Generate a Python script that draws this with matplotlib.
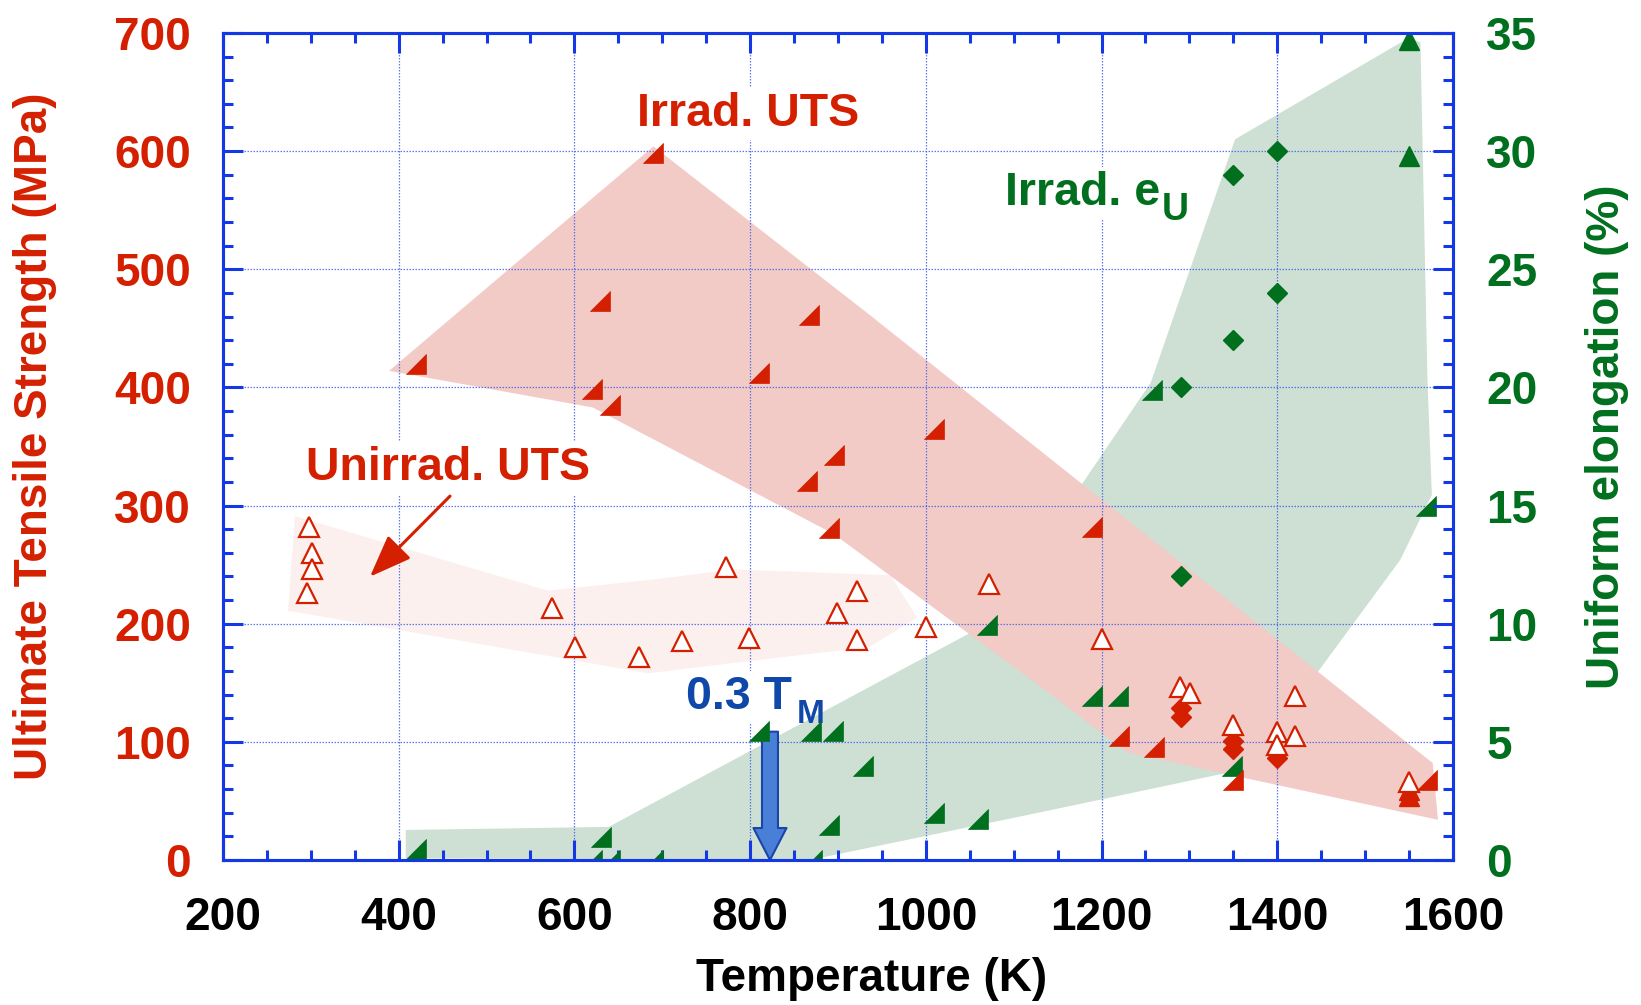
import numpy as np
import matplotlib
matplotlib.use("Agg")
import matplotlib.pyplot as plt
from matplotlib.path import Path
from matplotlib.patches import Polygon, FancyArrowPatch, ArrowStyle
from matplotlib.ticker import MultipleLocator

plt.rcParams['font.family'] = ['Liberation Sans', 'DejaVu Sans']
plt.rcParams['font.weight'] = 'bold'
plt.rcParams['axes.labelweight'] = 'bold'
plt.rcParams['mathtext.fontset'] = 'custom'
plt.rcParams['mathtext.rm'] = 'Liberation Sans:bold'
plt.rcParams['mathtext.it'] = 'Liberation Sans:bold'
plt.rcParams['mathtext.bf'] = 'Liberation Sans:bold'

# ---------------- data ----------------
# Irradiated UTS (half-filled red triangles)
irr_uts_T = [420, 690, 629, 620, 640, 867, 810, 865, 895, 890, 1009, 1189, 1220, 1260, 1350, 1570]
irr_uts_val = [420, 598, 473, 399, 385, 461, 412, 321, 343, 281, 365, 282, 105, 96, 68, 68]
# Irradiated UTS (solid red triangles)
irr_uts2_T = [1550, 1550]
irr_uts2_val = [54, 59]
# Irradiated UTS (red diamonds)
irr_uts3_T = [1290, 1290, 1350, 1350, 1400]
irr_uts3_val = [129, 121, 101, 94, 86]
# Unirradiated UTS (open triangles)
unirr_T = [298, 301, 301, 296, 574, 601, 673, 723, 772, 799, 899, 922, 922, 1000,
           1072, 1200, 1289, 1301, 1350, 1400, 1400, 1420, 1420, 1550]
unirr_val = [282, 260, 246, 226, 213, 180, 172, 185, 248, 188, 209, 228, 186, 197,
             234, 187, 146, 141, 114, 108, 97, 139, 105, 66]
# Irradiated uniform elongation (half-filled green triangles), %
irr_eu_T = [420, 630, 620, 640, 690, 870, 810, 869, 894, 929, 890, 1009, 1059, 1070,
            1189, 1219, 1258, 1349, 1569]
irr_eu_val = [0.47, 0.97, 0, 0, 0, 0, 5.46, 5.46, 5.46, 3.97, 1.46, 1.97, 1.75, 9.94,
              6.96, 6.96, 19.9, 3.98, 14.96]
# Irradiated eU (green diamonds)
irr_eu2_T = [1290, 1290, 1350, 1350, 1400, 1400]
irr_eu2_val = [20, 12, 29, 22, 30, 24]
# Irradiated eU (solid green triangles)
irr_eu3_T = [1550, 1550]
irr_eu3_val = [34.7, 29.8]

# shaded bands
irr_band_T = [389, 690, 935, 1577, 1583, 1229, 1141, 895, 621]
irr_band_uts = [414, 604, 462, 82, 34, 91, 141, 276, 383]
unirr_band_T = [282, 570, 697, 780, 960, 990, 935, 840, 684, 274]
unirr_band_uts = [291, 228, 238, 246, 241, 205, 180, 172, 158, 211]
eu_band_T = [408, 408, 639, 1070, 1256, 1352, 1550, 1563, 1571, 1576, 1540, 1445, 1357, 1141, 868]
eu_band_pct = [0.08, 1.27, 1.40, 10.0, 20.2, 30.5, 34.8, 34.6, 20.3, 15.45, 12.7, 7.9, 3.8, 2.1, 0]

x_ticks = [200, 400, 600, 800, 1000, 1200, 1400, 1600]
y_ticks = [0, 100, 200, 300, 400, 500, 600, 700]
y2_ticks = [0, 5, 10, 15, 20, 25, 30, 35]

# ---------------- style ----------------
RED = '#d42000'
GREEN = '#00701f'
BLUE = '#1538e6'
TXTBLUE = '#0f48a8'
PINK = '#f2cbc7'
LPINK = '#fcf0ef'
LGREEN = '#cde0d3'
FS = 33.5

fig = plt.figure(figsize=(16.41, 10.05), dpi=100)
ax = fig.add_axes([0.1359, 0.1443, 0.7495, 0.8229])
ax2 = ax.twinx()

ax.set_xlim(200, 1600)
ax.set_ylim(0, 700)
ax2.set_ylim(0, 35)

half_tri = Path([(-1, -1), (1, -1), (1, 1), (-1, -1)],
                [Path.MOVETO, Path.LINETO, Path.LINETO, Path.CLOSEPOLY])

tr2 = ax2.transData

# bands
ax.add_patch(Polygon(np.column_stack([eu_band_T, eu_band_pct]), closed=True,
                     facecolor=LGREEN, edgecolor='none', transform=tr2, zorder=1))
ax.add_patch(Polygon(np.column_stack([unirr_band_T, unirr_band_uts]), closed=True,
                     facecolor=LPINK, edgecolor='none', zorder=1.1))
ax.add_patch(Polygon(np.column_stack([irr_band_T, irr_band_uts]), closed=True,
                     facecolor=PINK, edgecolor='none', zorder=1.2))

# grid
ax.set_axisbelow(False)
ax.grid(True, which='major', color='#3a58e8', linestyle=(0, (1.2, 1.2)), linewidth=0.9, alpha=0.8)

# text labels
bb = dict(facecolor='white', edgecolor='none', pad=3)
ax.text(671, 621.6, 'Irrad. UTS', color=RED, fontsize=FS, ha='left', va='baseline',
        bbox=bb, zorder=3)
ax.text(1090, 554.4, 'Irrad. e', color=GREEN, fontsize=FS, ha='left',
        va='baseline', bbox=bb, zorder=3)
ax.text(1268, 541.7, 'U', color=GREEN, fontsize=27, ha='left',
        va='baseline', zorder=3.1)
ax.text(295, 321.3, 'Unirrad. UTS', color=RED, fontsize=FS, ha='left', va='baseline',
        bbox=bb, zorder=3)
ax.text(727, 128, '0.3 T', color=TXTBLUE, fontsize=FS, ha='left',
        va='baseline', bbox=bb, zorder=3)
ax.text(853, 115.7, 'M', color=TXTBLUE, fontsize=24, ha='left',
        va='baseline', zorder=3.1)

# arrows
ax.add_patch(FancyArrowPatch((458.4, 308), (367.3, 239.8),
                             arrowstyle='-|>,head_length=26,head_width=10',
                             mutation_scale=1, color=RED, lw=2.2,
                             shrinkA=0, shrinkB=0, zorder=3))
ax.add_patch(FancyArrowPatch((822.6, 108.6), (822.6, 0),
                             arrowstyle=ArrowStyle.Simple(head_length=23, head_width=23.8,
                                                          tail_width=11.5),
                             mutation_scale=1, facecolor='#4a7fd8', edgecolor='#1a45a8',
                             lw=1.5, shrinkA=0, shrinkB=0, zorder=3, clip_on=False))

# markers
ax.plot(irr_eu_T, irr_eu_val, linestyle='none', marker=half_tri, ms=15, color=GREEN,
        mec=GREEN, mew=0.5, transform=tr2, zorder=4)
ax.plot(irr_eu2_T, irr_eu2_val, linestyle='none', marker='D', ms=10, color=GREEN,
        mec=GREEN, transform=tr2, zorder=4)
ax.plot(irr_eu3_T, irr_eu3_val, linestyle='none', marker='^', ms=15, color=GREEN,
        mec=GREEN, transform=tr2, zorder=4)
ax.plot(irr_uts_T, irr_uts_val, linestyle='none', marker=half_tri, ms=15, color=RED,
        mec=RED, mew=0.5, zorder=4)
ax.plot(irr_uts3_T, irr_uts3_val, linestyle='none', marker='D', ms=10, color=RED,
        mec=RED, zorder=4)
ax.plot(irr_uts2_T, irr_uts2_val, linestyle='none', marker='^', ms=15, color=RED,
        mec=RED, zorder=4)
ax.plot(unirr_T, unirr_val, linestyle='none', marker='^', ms=14, mfc='white',
        mec=RED, mew=1.6, zorder=4.5)

# axes styling
for a in (ax, ax2):
    for s in a.spines.values():
        s.set_color(BLUE)
        s.set_linewidth(2.2)

ax.set_xticks(x_ticks)
ax.set_yticks(y_ticks)
ax2.set_yticks(y2_ticks)
ax.xaxis.set_minor_locator(MultipleLocator(50))
ax.yaxis.set_minor_locator(MultipleLocator(20))
ax2.yaxis.set_minor_locator(MultipleLocator(1))

ax.tick_params(axis='x', which='both', direction='in', top=True, bottom=True,
               color=BLUE, width=2.2, labelsize=33, labelcolor='black', pad=26)
ax.tick_params(axis='y', which='both', direction='in', left=True, right=False,
               color=BLUE, width=2.2, labelsize=33, labelcolor=RED, pad=23)
ax2.tick_params(axis='y', which='both', direction='in', left=False, right=True,
                color=BLUE, width=2.2, labelsize=33, labelcolor=GREEN, pad=24)
for a in (ax, ax2):
    a.tick_params(which='major', length=14.4)
    a.tick_params(which='minor', length=7.5)

ax.set_xlabel('Temperature (K)', fontsize=33, color='black', fontweight='bold', va='center')
ax.xaxis.set_label_coords(0.527, -0.1434)
ax.set_ylabel('Ultimate Tensile Strength (MPa)', fontsize=33, color=RED,
              fontweight='bold', va='center', ha='center')
ax.yaxis.set_label_coords(-0.153, 0.512)
ax2.set_ylabel('Uniform elongation (%)', fontsize=33, color=GREEN, rotation=90,
               fontweight='bold', va='center', ha='center')
ax2.yaxis.set_label_coords(1.125, 0.512)

fig.savefig('out.png', dpi=100)
